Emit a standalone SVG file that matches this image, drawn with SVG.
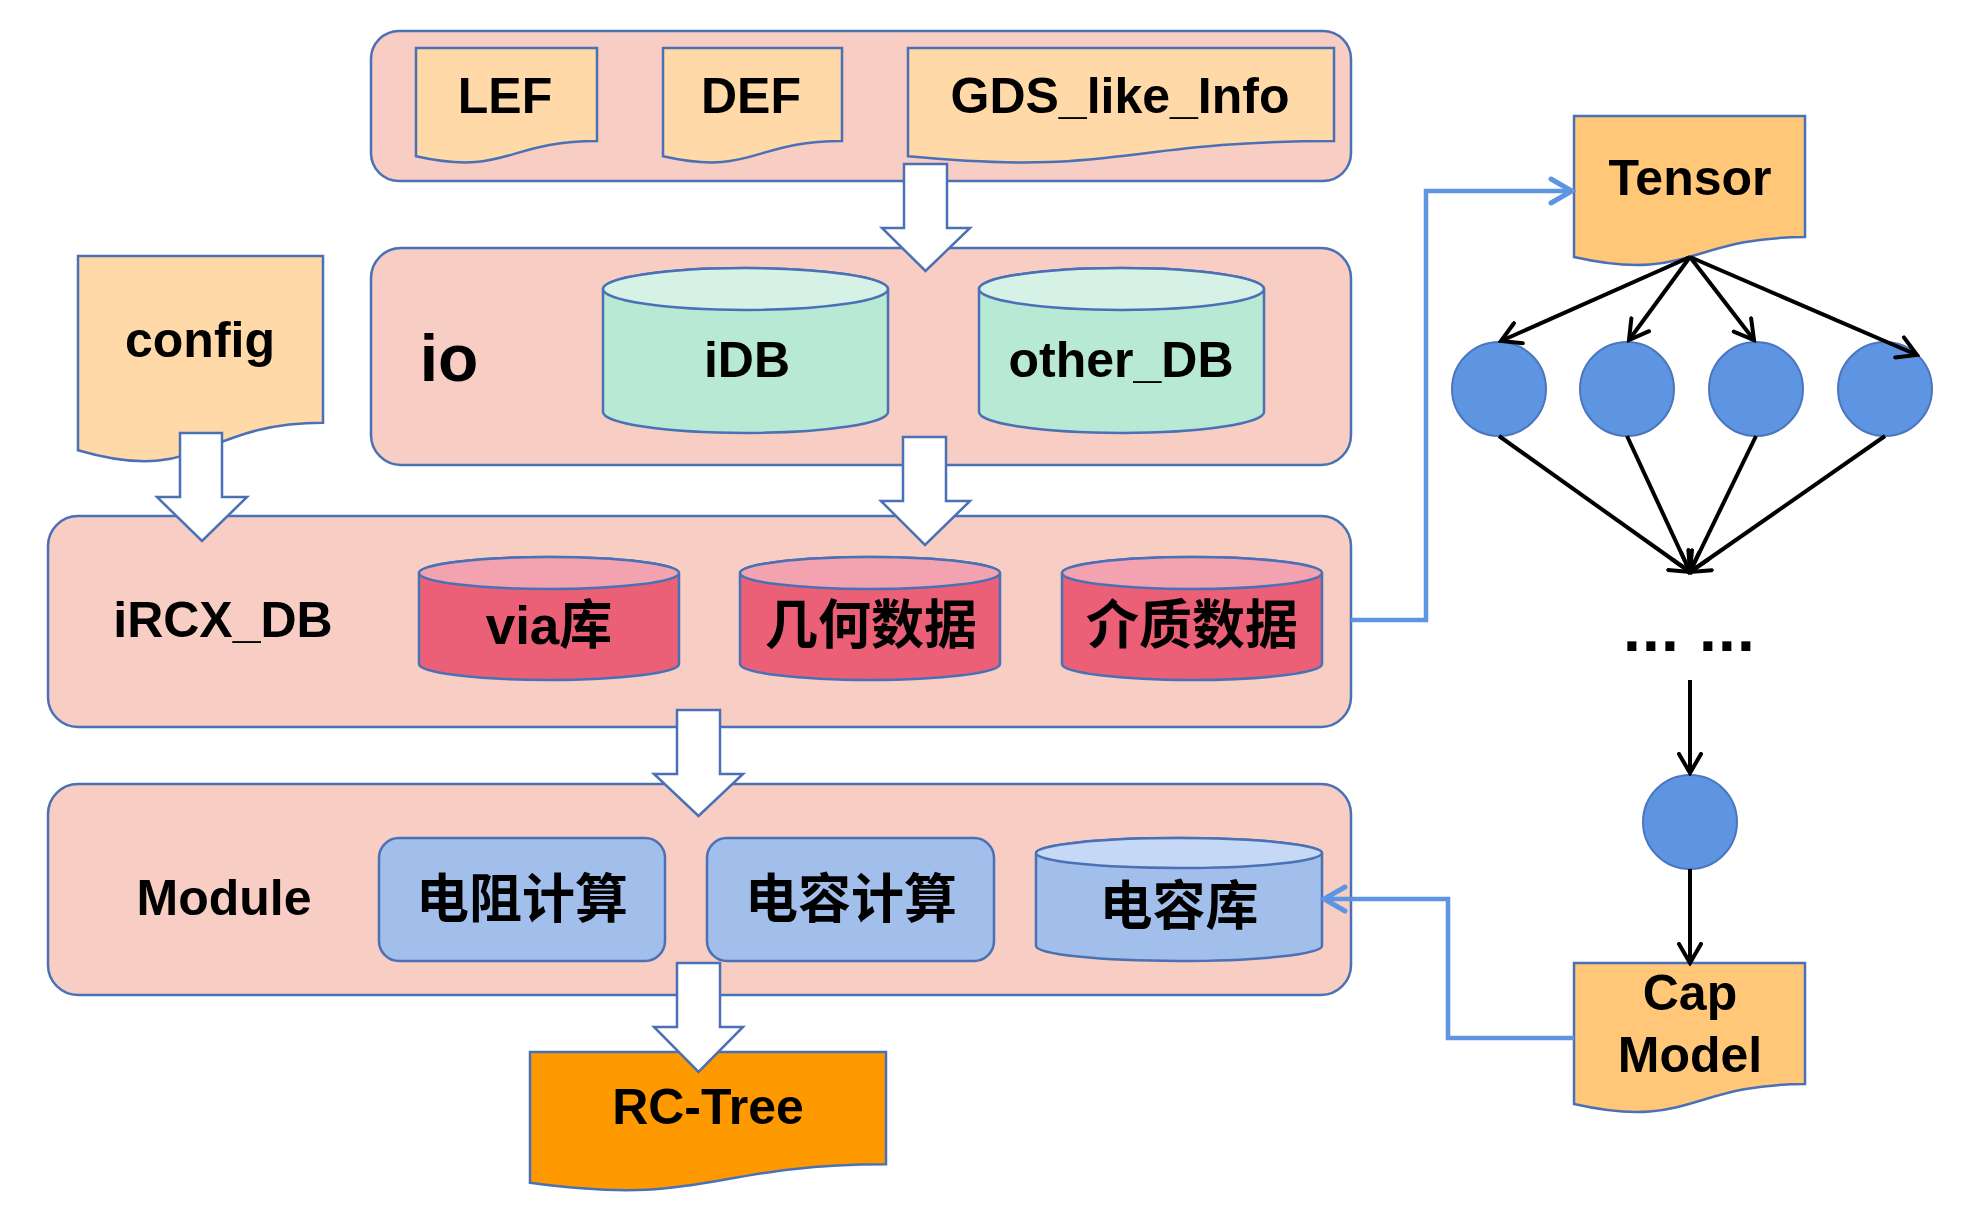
<svg xmlns="http://www.w3.org/2000/svg" width="1961" height="1222" viewBox="0 0 1961 1222">
<style>
.panel{fill:#F8CDC3;stroke:#4A70B5;stroke-width:2.5}
.doc{fill:#FFDAA8;stroke:#4A70B5;stroke-width:2.5}
.doc2{fill:#FFC777;stroke:#4A70B5;stroke-width:2.5}
.blk{fill:#FFFFFF;stroke:#4A70B5;stroke-width:2.5}
.mintB{fill:#B8E9D5;stroke:#4A70B5;stroke-width:2.5}
.mintT{fill:#D6F1E6;stroke:#4A70B5;stroke-width:2.5}
.redB{fill:#EC6077;stroke:#4A70B5;stroke-width:2.5}
.redT{fill:#F2A3AF;stroke:#4A70B5;stroke-width:2.5}
.bluB{fill:#A2BFEC;stroke:#4A70B5;stroke-width:2.5}
.bluT{fill:#C5D8F5;stroke:#4A70B5;stroke-width:2.5}
.node{fill:#5E95E3;stroke:#4B76BE;stroke-width:2}
.t{font-family:"Liberation Sans","Noto Sans CJK SC",Arial,sans-serif;font-weight:bold;font-size:50px;fill:#000;text-anchor:middle}
.cjk{font-size:53px}
.bl{fill:none;stroke:#000;stroke-width:4}
.cn{fill:none;stroke:#5E95E3;stroke-width:4.5}
</style>
<defs>
<marker id="ah" markerUnits="userSpaceOnUse" viewBox="0 0 24 26" markerWidth="24" markerHeight="26" refX="21" refY="13" orient="auto">
<path d="M2,2 L21,13 L2,24" fill="none" stroke="#000" stroke-width="4" stroke-linecap="round"/>
</marker>
<marker id="bh" markerUnits="userSpaceOnUse" viewBox="0 0 28 30" markerWidth="28" markerHeight="30" refX="24" refY="15" orient="auto">
<path d="M3,3 L24,15 L3,27" fill="none" stroke="#5E95E3" stroke-width="5" stroke-linecap="round"/>
</marker>
</defs>

<g id="panel-files">
<rect class="panel" x="371" y="31" width="980" height="150" rx="28"/>
</g>
<g id="panel-io">
<rect class="panel" x="371" y="248" width="980" height="217" rx="30"/>
<text class="t" x="449" y="381" style="font-size:66px">io</text>
</g>
<g id="panel-ircx">
<rect class="panel" x="48" y="516" width="1303" height="211" rx="30"/>
<text class="t" x="223" y="637">iRCX_DB</text>
</g>
<g id="panel-module">
<rect class="panel" x="48" y="784" width="1303" height="211" rx="30"/>
<text class="t" x="224" y="915">Module</text>
</g>

<g id="lef">
<path class="doc" d="M416,48 H597 V141 C506.5,141 506.5,176.4 416,156.3 Z"/>
<text class="t" x="505" y="113">LEF</text>
</g>
<g id="def">
<path class="doc" d="M663,48 H842 V141 C752.5,141 752.5,176.4 663,156.3 Z"/>
<text class="t" x="751" y="113">DEF</text>
</g>
<g id="gds">
<path class="doc" d="M908,48 H1334 V141 C1121,141 1121,176.4 908,156.3 Z"/>
<text class="t" x="1120" y="113">GDS_like_Info</text>
</g>
<g id="config">
<path class="doc" d="M78,256 H323 V422.8 C200.5,422.8 200.5,486.3 78,450.3 Z"/>
<text class="t" x="200" y="357">config</text>
</g>

<g id="idb">
<path class="mintB" d="M603,289 V412 A142.5,21 0 0 0 888,412 V289 A142.5,21 0 0 0 603,289 Z"/>
<ellipse class="mintT" cx="745.5" cy="289" rx="142.5" ry="21"/>
<text class="t" x="747" y="377">iDB</text>
</g>
<g id="otherdb">
<path class="mintB" d="M979,289 V412 A142.5,21 0 0 0 1264,412 V289 A142.5,21 0 0 0 979,289 Z"/>
<ellipse class="mintT" cx="1121.5" cy="289" rx="142.5" ry="21"/>
<text class="t" x="1121" y="377">other_DB</text>
</g>

<g id="via">
<path class="redB" d="M419,573 V664 A130,16 0 0 0 679,664 V573 A130,16 0 0 0 419,573 Z"/>
<ellipse class="redT" cx="549" cy="573" rx="130" ry="16"/>
<text class="t cjk" x="549" y="644">via库</text>
</g>
<g id="geom">
<path class="redB" d="M740,573 V664 A130,16 0 0 0 1000,664 V573 A130,16 0 0 0 740,573 Z"/>
<ellipse class="redT" cx="870" cy="573" rx="130" ry="16"/>
<text class="t cjk" x="871" y="644">几何数据</text>
</g>
<g id="medium">
<path class="redB" d="M1062,573 V664 A130,16 0 0 0 1322,664 V573 A130,16 0 0 0 1062,573 Z"/>
<ellipse class="redT" cx="1192" cy="573" rx="130" ry="16"/>
<text class="t cjk" x="1192" y="644">介质数据</text>
</g>

<g id="res-calc">
<rect class="bluB" x="379" y="838" width="286" height="123" rx="20"/>
<text class="t cjk" x="522" y="918">电阻计算</text>
</g>
<g id="cap-calc">
<rect class="bluB" x="707" y="838" width="287" height="123" rx="20"/>
<text class="t cjk" x="851" y="918">电容计算</text>
</g>
<g id="cap-lib">
<path class="bluB" d="M1036,853 V946 A143,15 0 0 0 1322,946 V853 A143,15 0 0 0 1036,853 Z"/>
<ellipse class="bluT" cx="1179" cy="853" rx="143" ry="15"/>
<text class="t cjk" x="1179" y="925">电容库</text>
</g>

<g id="rctree">
<path class="doc" style="fill:#FF9900" d="M530,1052 H886 V1164.3 C708,1164.3 708,1207 530,1182.8 Z"/>
<text class="t" x="708" y="1124">RC-Tree</text>
</g>

<g id="tensor">
<path class="doc2" d="M1574,116 H1805 V237.1 C1689.5,237.1 1689.5,283.2 1574,257 Z"/>
<text class="t" x="1690" y="195">Tensor</text>
</g>
<g id="capmodel">
<path class="doc2" d="M1574,963 H1805 V1084.1 C1689.5,1084.1 1689.5,1130.2 1574,1104 Z"/>
<text class="t" x="1690" y="1010">Cap</text>
<text class="t" x="1690" y="1072">Model</text>
</g>

<g id="n1"><circle class="node" cx="1499" cy="389" r="47"/></g>
<g id="n2"><circle class="node" cx="1627" cy="389" r="47"/></g>
<g id="n3"><circle class="node" cx="1756" cy="389" r="47"/></g>
<g id="n4"><circle class="node" cx="1885" cy="389" r="47"/></g>
<g id="n5"><circle class="node" cx="1690" cy="822" r="47"/></g>
<g id="ellipsis">
<text x="1623" y="651" style="font-family:'Liberation Sans',Arial,sans-serif;font-weight:bold;font-size:64px;letter-spacing:1.2px;fill:#000">... ...</text>
</g>

<g id="connectors">
<polygon class="blk" points="904,164 947,164 947,228 970,228 925.5,271 882,228 904,228"/>
<polygon class="blk" points="903,437 946,437 946,501 970,501 925,545 881,501 903,501"/>
<polygon class="blk" points="180,433 222,433 222,497 247,497 202,541 157,497 180,497"/>
<polygon class="blk" points="677,710 720,710 720,774 743,774 698.5,816 654,774 677,774"/>
<polygon class="blk" points="677,963 720,963 720,1027 743,1027 698.5,1072 654,1027 677,1027"/>

<path class="cn" d="M1351,620 H1426 V191 H1572" marker-end="url(#bh)"/>
<path class="cn" d="M1574,1038 H1448 V899 H1324" marker-end="url(#bh)"/>

<line class="bl" x1="1690" y1="257" x2="1501" y2="341" marker-end="url(#ah)"/>
<line class="bl" x1="1690" y1="257" x2="1629" y2="340" marker-end="url(#ah)"/>
<line class="bl" x1="1690" y1="257" x2="1754" y2="340" marker-end="url(#ah)"/>
<line class="bl" x1="1690" y1="257" x2="1917" y2="355" marker-end="url(#ah)"/>
<line class="bl" x1="1499" y1="436" x2="1690" y2="572" marker-end="url(#ah)"/>
<line class="bl" x1="1627" y1="436" x2="1690" y2="572" marker-end="url(#ah)"/>
<line class="bl" x1="1756" y1="436" x2="1690" y2="572" marker-end="url(#ah)"/>
<line class="bl" x1="1885" y1="436" x2="1690" y2="572" marker-end="url(#ah)"/>
<line class="bl" x1="1690" y1="680" x2="1690" y2="773" marker-end="url(#ah)"/>
<line class="bl" x1="1690" y1="869" x2="1690" y2="963" marker-end="url(#ah)"/>
</g>
</svg>
